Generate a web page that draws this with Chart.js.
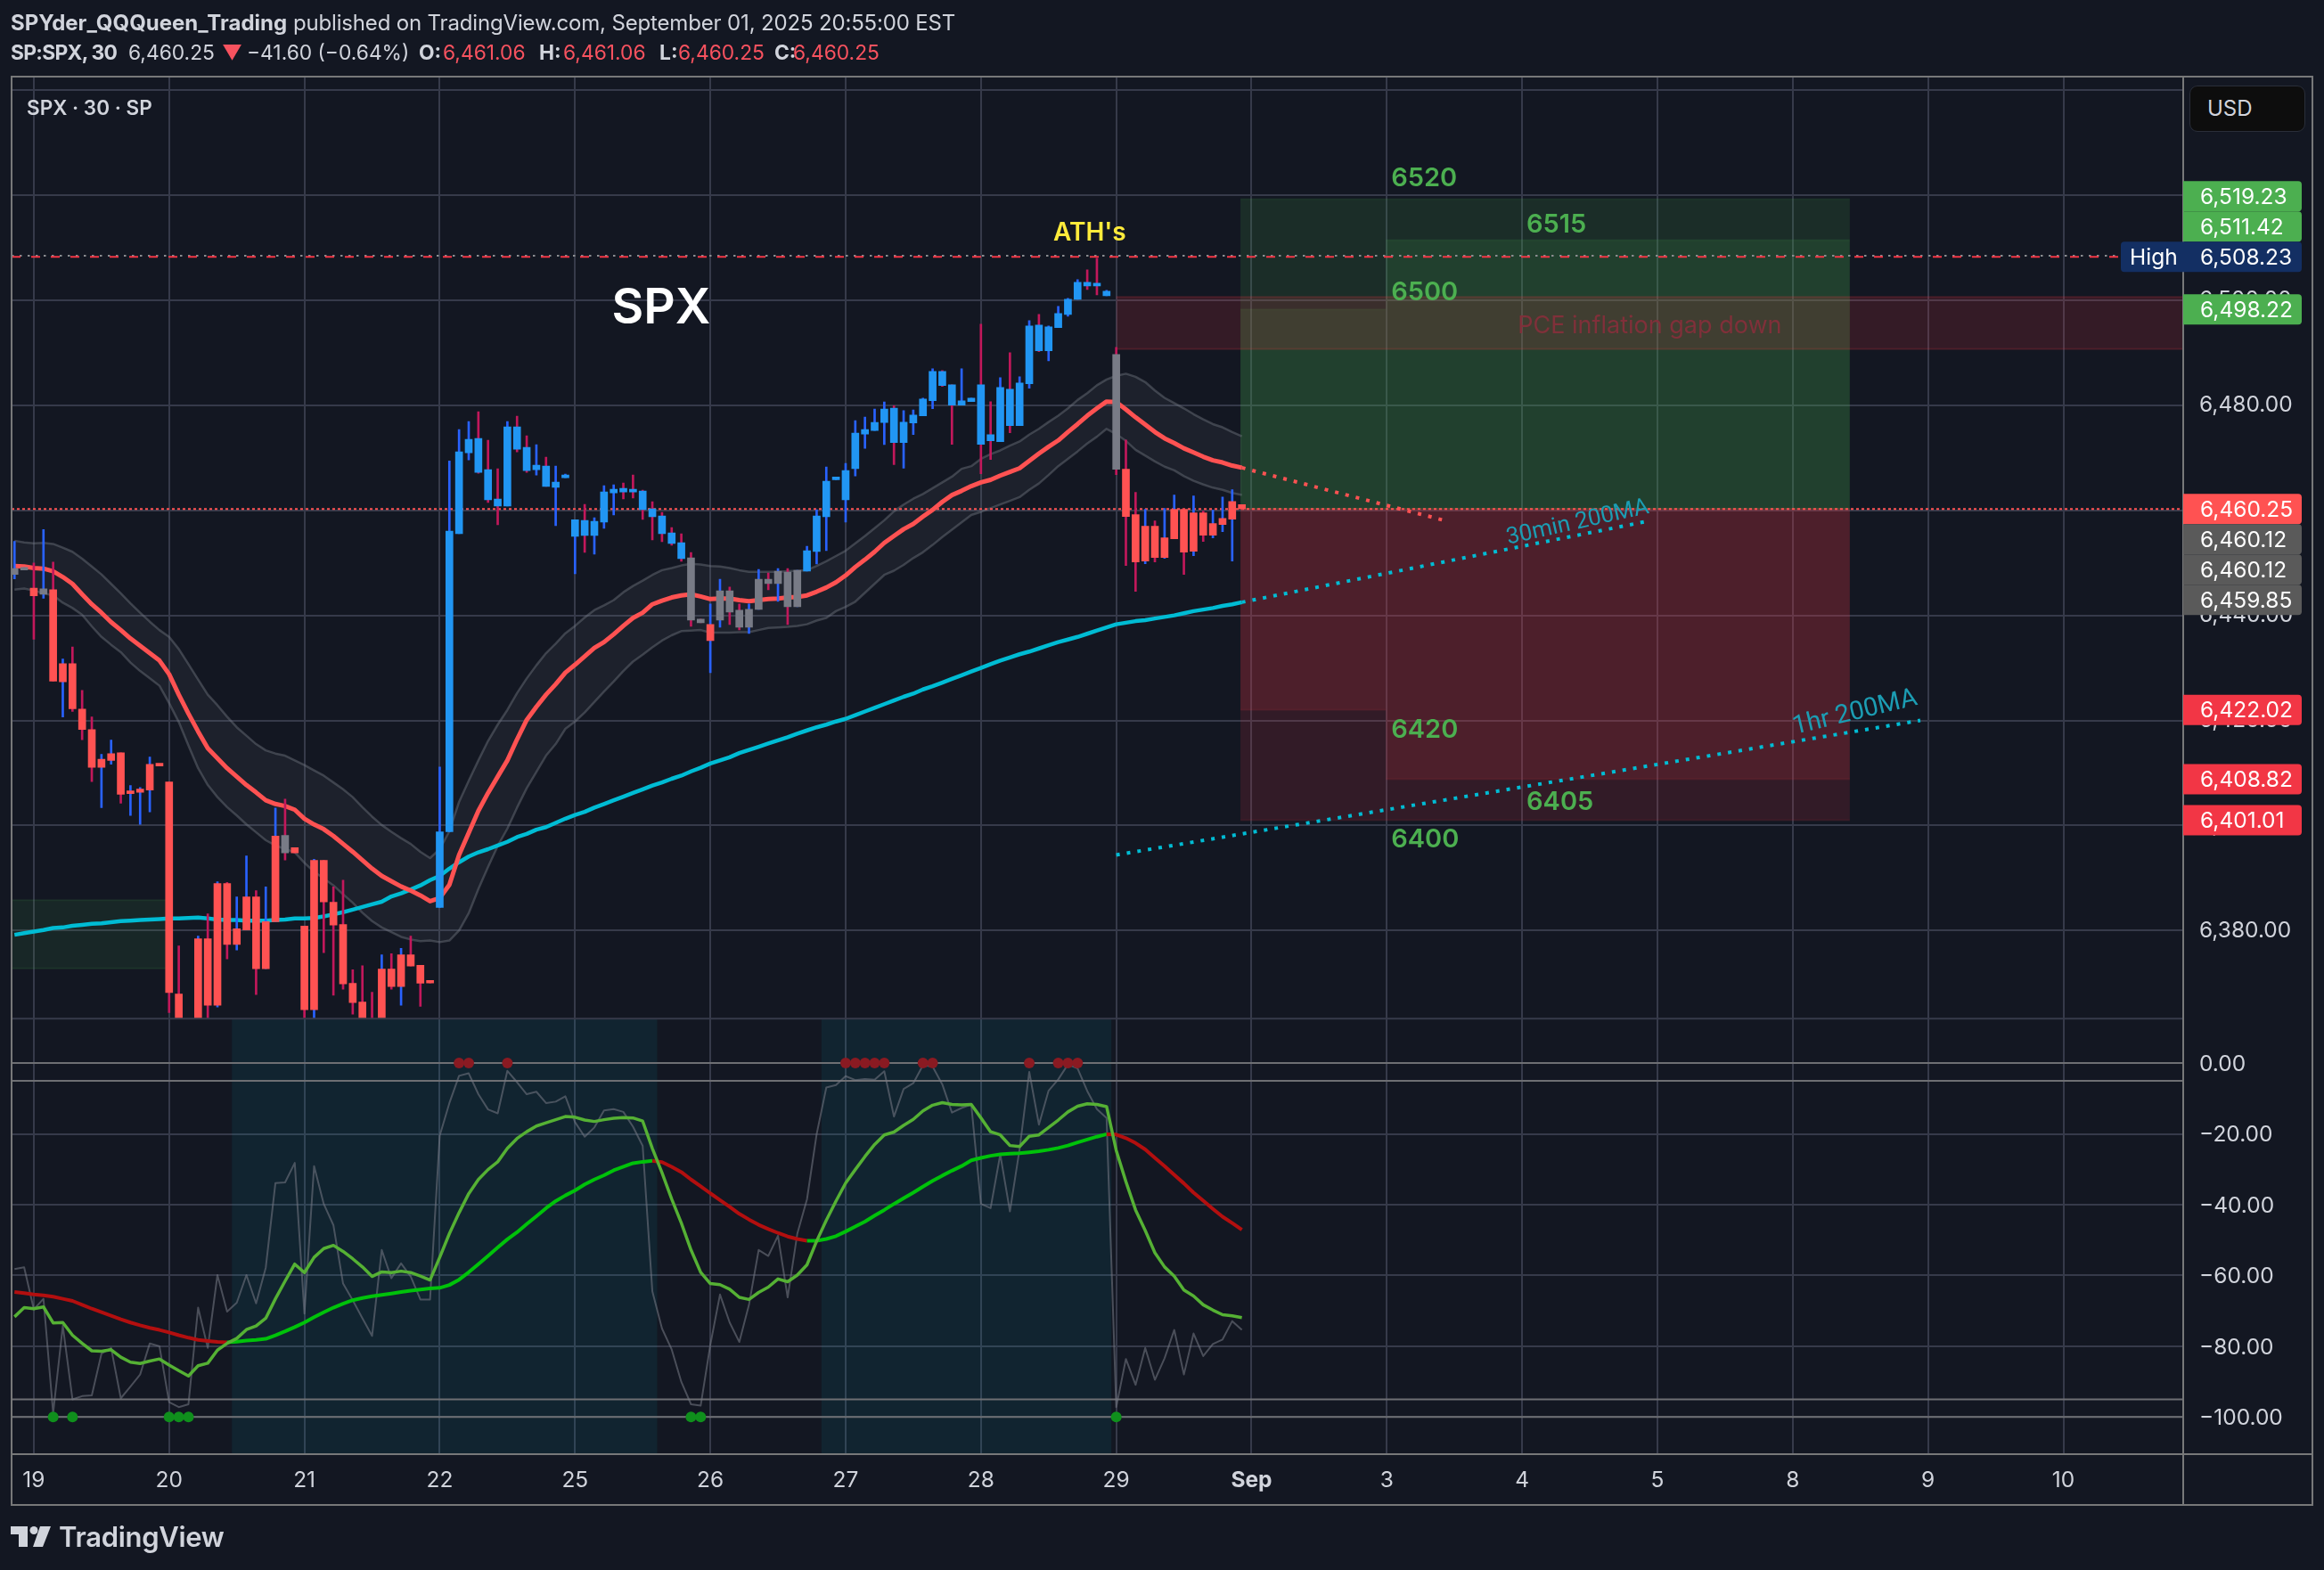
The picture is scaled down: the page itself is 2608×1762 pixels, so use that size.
<!DOCTYPE html>
<html lang="en">

<head>
    <meta charset="UTF-8">
    <title>SPX 30 | TradingView snapshot</title>
    <script src="https://cdn.jsdelivr.net/npm/chart.js"></script>
    <style>
        html, body { margin: 0; padding: 0; background: #131722; }
        body { width: 2608px; height: 1762px; position: relative; overflow: hidden; font-family: Inter, sans-serif; color: #d1d4dc; }
        canvas { position: absolute; left: 0; top: 0; }
        .txt { position: absolute; white-space: nowrap; font-size: 24px; line-height: 30px; }
        .txt b { font-weight: 700; }
        .linha2 { top: 44px; font-size: 22.8px; }
        .red { color: #f7525f; }
        #usd { left: 2457px; top: 96px; width: 109px; height: 50px; padding-left: 19px; line-height: 50px; background: #0d0d0d; border: 1px solid #2a2e39; border-radius: 9px; }
        #logoText { left: 66px; top: 1705px; font-size: 31px; line-height: 40px; font-weight: 600; letter-spacing: -0.3px; }
    </style>
</head>

<body>
    <canvas id="grafico" width="2608" height="1762"></canvas>

    <div class="txt" style="left:12px; top:11px;"><b>SPYder_QQQueen_Trading</b> <span style="letter-spacing:-0.16px">published on TradingView.com, September 01, 2025 20:55:00 EST</span></div>
    <div class="txt linha2" style="left:12px; letter-spacing:-0.7px;"><b>SP:SPX, 30</b></div>
    <div class="txt linha2" style="left:144px;">6,460.25</div>
    <div class="txt linha2 red" style="left:249px;">▼</div>
    <div class="txt linha2" style="left:277px;">−41.60 (−0.64%)</div>
    <div class="txt linha2" style="left:470px;"><b>O:</b></div>
    <div class="txt linha2 red" style="left:497px;">6,461.06</div>
    <div class="txt linha2" style="left:605px;"><b>H:</b></div>
    <div class="txt linha2 red" style="left:632px;">6,461.06</div>
    <div class="txt linha2" style="left:740px;"><b>L:</b></div>
    <div class="txt linha2 red" style="left:761px;">6,460.25</div>
    <div class="txt linha2" style="left:869px;"><b>C:</b></div>
    <div class="txt linha2 red" style="left:890px;">6,460.25</div>
    <div class="txt" style="left:30px; top:106px; font-weight:600; font-size:22.5px;">SPX · 30 · SP</div>
    <div class="txt" id="usd">USD</div>

    <svg style="position:absolute; left:12px; top:1712px;" width="46" height="26" viewBox="0 0 46 26">
        <path fill="#d1d4dc" d="M0 1h19v23H9V10H0z" />
        <circle fill="#d1d4dc" cx="26" cy="5.5" r="4.5" />
        <path fill="#d1d4dc" d="M33 1h12l-9 23H25z" />
    </svg>
    <div class="txt" id="logoText">TradingView</div>

    <script>
        // 30 minute bars, 14 a day, first bar is two bars before the "19" gridline
        const firstBar = -2;

        const barOpen = [
            6447.78, 6448.63,
            6445.19, 6444.02, 6444.86, 6427.35, 6430.79, 6422.16, 6418.27, 6411.07, 6412.37, 6413.86, 6406.08, 6406.34, 6406.73, 6411.59,
            6408.28, 6367.94, 6362.00, 6361.00, 6378.45, 6365.80, 6388.96, 6377.35, 6380.13, 6386.42, 6372.74, 6381.69, 6398.10, 6395.77,
            6380.85, 6364.96, 6393.37, 6385.38, 6381.17, 6369.95, 6366.38, 6362.00, 6362.00, 6372.68, 6369.37, 6375.40, 6373.39, 6370.34,
            6384.40, 6398.81, 6455.54, 6470.96, 6473.67, 6467.74, 6462.15, 6460.79, 6475.88, 6471.98, 6467.74, 6468.42, 6464.35, 6466.21,
            6455.03, 6458.08, 6455.20, 6457.74, 6463.33, 6464.18, 6463.84, 6463.67, 6460.28, 6458.93, 6455.71, 6453.84, 6450.96, 6439.27,
            6435.20, 6439.10, 6444.69, 6440.96, 6437.74, 6441.13, 6446.89, 6446.05, 6448.25, 6441.64, 6448.42, 6452.15, 6458.76, 6465.82,
            6461.98, 6467.91, 6474.52, 6475.20, 6476.72, 6479.44, 6472.88, 6476.61, 6477.97, 6480.85, 6486.44, 6483.90, 6480.00, 6480.68,
            6483.90, 6474.41, 6473.05, 6483.05, 6476.10, 6484.07, 6495.25, 6490.34, 6494.75, 6497.29, 6500.17, 6503.39, 6503.05, 6500.85,
            6489.66, 6467.80, 6459.15, 6450.34, 6456.95, 6451.02, 6454.58, 6460.17, 6452.20, 6459.49, 6455.25, 6457.29, 6458.31, 6461.06
        ];
        const barHigh = [
            6454.07, 6449.08,
            6449.99, 6456.34, 6450.12, 6431.70, 6433.97, 6425.73, 6420.67, 6413.54, 6416.26, 6413.86, 6407.63, 6407.24, 6413.02, 6411.59,
            6408.28, 6377.09, 6362.50, 6378.97, 6383.19, 6389.28, 6389.15, 6386.42, 6394.21, 6387.59, 6388.30, 6403.35, 6405.04, 6395.77,
            6380.85, 6393.56, 6393.37, 6388.30, 6389.60, 6372.55, 6373.32, 6368.26, 6375.40, 6375.60, 6376.60, 6378.97, 6373.39, 6370.34,
            6411.13, 6469.38, 6475.37, 6476.89, 6478.76, 6473.33, 6467.91, 6476.89, 6477.91, 6474.18, 6472.49, 6470.11, 6468.42, 6466.89,
            6458.19, 6461.13, 6458.59, 6464.69, 6464.86, 6465.20, 6466.72, 6463.84, 6461.64, 6459.60, 6456.72, 6455.54, 6451.98, 6439.27,
            6442.15, 6446.89, 6445.37, 6442.15, 6442.15, 6448.76, 6448.08, 6448.93, 6448.93, 6448.59, 6453.16, 6460.11, 6468.25, 6466.05,
            6468.93, 6477.06, 6477.74, 6479.27, 6480.62, 6479.89, 6478.98, 6479.10, 6481.36, 6486.95, 6486.61, 6483.90, 6486.95, 6481.36,
            6495.42, 6480.68, 6485.25, 6490.00, 6485.42, 6496.10, 6497.29, 6495.08, 6498.81, 6500.34, 6503.90, 6505.76, 6507.97, 6501.86,
            6491.02, 6473.39, 6463.39, 6460.17, 6457.97, 6460.34, 6462.88, 6460.17, 6462.71, 6459.83, 6460.00, 6462.54, 6463.90, 6461.06
        ];
        const barLow = [
            6446.94, 6448.63,
            6435.46, 6443.24, 6427.48, 6420.67, 6421.71, 6416.33, 6408.35, 6403.42, 6411.66, 6404.26, 6401.93, 6400.24, 6402.58, 6411.33,
            6364.40, 6358.00, 6356.00, 6359.00, 6362.00, 6365.47, 6374.62, 6376.31, 6380.13, 6367.81, 6372.74, 6381.69, 6393.43, 6394.79,
            6362.00, 6362.00, 6375.79, 6367.68, 6368.85, 6364.11, 6360.00, 6356.00, 6360.00, 6368.85, 6365.80, 6373.26, 6365.60, 6370.02,
            6384.40, 6398.81, 6455.54, 6469.60, 6467.05, 6461.47, 6457.23, 6460.79, 6471.13, 6467.23, 6466.72, 6464.52, 6457.06, 6466.21,
            6447.91, 6451.98, 6451.64, 6456.55, 6459.10, 6462.15, 6462.32, 6458.25, 6454.35, 6454.01, 6453.33, 6450.28, 6437.91, 6438.59,
            6429.10, 6437.74, 6438.25, 6437.23, 6436.55, 6441.13, 6444.86, 6442.66, 6438.25, 6441.64, 6448.42, 6449.77, 6452.32, 6465.82,
            6457.74, 6466.55, 6471.81, 6475.20, 6472.49, 6468.70, 6468.02, 6474.41, 6477.97, 6479.32, 6483.56, 6472.54, 6480.00, 6480.68,
            6466.95, 6469.66, 6473.05, 6474.75, 6476.10, 6483.22, 6490.17, 6488.47, 6494.75, 6496.95, 6500.17, 6502.03, 6501.02, 6500.85,
            6466.78, 6449.49, 6444.58, 6449.83, 6450.17, 6450.85, 6454.58, 6447.80, 6451.36, 6454.07, 6454.75, 6455.93, 6450.34, 6460.25
        ];
        const barClose = [
            6448.89, 6449.08,
            6443.70, 6445.06, 6427.48, 6430.79, 6422.23, 6418.27, 6411.07, 6412.63, 6413.67, 6405.95, 6406.40, 6406.92, 6411.66, 6411.33,
            6368.20, 6360.00, 6358.00, 6378.45, 6365.80, 6388.96, 6377.35, 6380.33, 6386.42, 6372.74, 6381.69, 6397.97, 6394.79, 6394.79,
            6364.96, 6393.37, 6385.45, 6381.04, 6369.88, 6366.32, 6361.00, 6358.00, 6372.68, 6369.37, 6375.40, 6373.26, 6370.00, 6370.02,
            6398.81, 6456.05, 6471.13, 6473.50, 6467.23, 6461.98, 6460.79, 6475.88, 6471.64, 6467.57, 6468.59, 6464.52, 6465.37, 6466.72,
            6458.19, 6455.20, 6457.91, 6463.50, 6464.01, 6463.50, 6463.50, 6460.11, 6458.76, 6455.54, 6453.67, 6450.79, 6439.10, 6438.59,
            6438.25, 6444.69, 6440.62, 6437.74, 6441.13, 6446.89, 6446.05, 6448.42, 6441.64, 6448.59, 6452.32, 6458.93, 6465.54, 6466.05,
            6467.57, 6474.69, 6475.37, 6476.72, 6479.27, 6472.88, 6476.78, 6478.14, 6481.19, 6486.44, 6483.73, 6480.00, 6480.85, 6481.36,
            6472.54, 6473.22, 6483.39, 6476.10, 6484.24, 6495.08, 6490.34, 6494.92, 6497.46, 6500.17, 6503.39, 6502.71, 6502.71, 6501.69,
            6467.80, 6458.81, 6450.17, 6456.95, 6451.02, 6454.75, 6460.17, 6452.03, 6459.49, 6455.25, 6457.46, 6458.47, 6461.69, 6460.25
        ];
        // painted state of each bar: 1 up trend, -1 down trend, 0 neutral
        const barTrend = [
            0, 0,
            -1, 0, -1, -1, -1, -1, -1, -1, -1, -1, -1, -1, -1, -1,
            -1, -1, -1, -1, -1, -1, -1, -1, -1, -1, -1, -1, 0, -1,
            -1, -1, -1, -1, -1, -1, -1, -1, -1, -1, -1, -1, -1, -1,
            1, 1, 1, 1, 1, 1, 1, 1, 1, 1, 1, 1, 1, 1,
            1, 1, 1, 1, 1, 1, 1, 1, 1, 1, 1, 1, 0, 0,
            -1, 0, 0, 0, 0, 0, 0, 0, 0, 0, 1, 1, 1, 1,
            1, 1, 1, 1, 1, 1, 1, 1, 1, 1, 1, 1, 1, 1,
            1, 1, 1, 1, 1, 1, 1, 1, 1, 1, 1, 1, 1, 1,
            0, -1, -1, -1, -1, -1, -1, -1, -1, -1, -1, -1, -1, -1
        ];

        const maRed = [
            6449.4, 6449.3,
            6449.0, 6448.9, 6448.4, 6447.3, 6446.0, 6444.0, 6442.1, 6440.5, 6438.7, 6437.2, 6435.6, 6434.2, 6432.8, 6431.4,
            6428.8, 6424.9, 6421.3, 6417.9, 6414.7, 6412.8, 6410.9, 6409.3, 6407.7, 6406.3, 6404.8, 6404.1, 6403.7, 6403.0,
            6401.3, 6400.2, 6399.3, 6398.0, 6396.5, 6395.0, 6393.4, 6391.8, 6390.4, 6389.4, 6388.4, 6387.6, 6386.7, 6385.6,
            6386.2, 6388.7, 6394.4, 6398.6, 6402.8, 6406.2, 6409.3, 6412.4, 6416.4, 6420.1, 6422.6, 6424.9, 6426.9, 6429.1,
            6430.6, 6432.2, 6433.8, 6434.9, 6436.4, 6438.0, 6439.5, 6440.5, 6442.1, 6442.8, 6443.4, 6443.8, 6444.0, 6443.6,
            6443.1, 6443.2, 6443.2, 6442.9, 6442.7, 6442.9, 6443.1, 6443.2, 6443.4, 6443.5, 6443.8, 6444.5, 6445.3, 6446.3,
            6447.6, 6449.2, 6450.6, 6452.1, 6453.8, 6455.1, 6456.4, 6457.4, 6458.8, 6460.1, 6461.6, 6462.9, 6463.7, 6464.6,
            6465.3, 6465.8, 6466.6, 6467.3, 6468.0, 6469.4, 6470.8, 6472.1, 6473.3, 6474.9, 6476.4, 6478.0, 6479.4, 6480.7,
            6480.6, 6479.2, 6477.7, 6476.3, 6474.9, 6473.7, 6472.8, 6471.8, 6471.0, 6470.2, 6469.5, 6469.1, 6468.5, 6468.1
        ];
        const bandUpper = [
            6454.2, 6453.9,
            6453.7, 6453.8, 6453.6, 6452.9, 6452.1, 6450.8, 6449.3, 6447.8, 6446.0, 6444.2, 6442.3, 6440.5, 6438.8, 6437.2,
            6435.9, 6433.6, 6430.7, 6427.8, 6424.9, 6422.9, 6420.7, 6418.7, 6417.1, 6415.5, 6414.3, 6413.7, 6413.3, 6412.4,
            6411.5, 6410.5, 6409.5, 6408.2, 6406.9, 6405.4, 6403.5, 6401.7, 6400.1, 6398.8, 6397.6, 6396.5, 6395.0, 6393.8,
            6395.5, 6398.9, 6404.5, 6408.5, 6412.4, 6416.1, 6419.2, 6422.0, 6425.2, 6428.0, 6430.5, 6432.8, 6434.6, 6436.6,
            6438.0, 6439.6, 6441.0, 6441.9, 6442.9, 6444.4, 6445.6, 6446.6, 6447.7, 6448.6, 6449.0, 6449.5, 6449.8, 6449.7,
            6449.4, 6449.3, 6449.0, 6448.6, 6448.3, 6448.3, 6448.3, 6448.3, 6448.4, 6448.5, 6448.6, 6449.4, 6450.3, 6451.3,
            6452.3, 6453.7, 6455.1, 6456.6, 6458.1, 6459.8, 6461.1, 6462.2, 6463.1, 6464.2, 6465.3, 6466.4, 6467.9, 6468.4,
            6469.8, 6470.7, 6471.4, 6472.3, 6473.1, 6474.4, 6475.5, 6476.8, 6478.0, 6479.4, 6481.0, 6482.3, 6483.8, 6484.9,
            6485.6, 6486.0, 6485.4, 6484.4, 6482.8, 6481.4, 6480.4, 6479.4, 6478.3, 6477.3, 6476.4, 6475.8, 6474.9, 6474.1
        ];
        const bandLower = [
            6444.9, 6445.1,
            6444.7, 6444.2, 6443.8, 6442.4, 6441.4, 6440.1, 6437.9, 6435.9, 6434.4, 6433.0, 6431.0, 6429.4, 6428.0, 6426.6,
            6423.3, 6419.7, 6415.2, 6410.9, 6407.7, 6405.4, 6403.5, 6401.9, 6400.2, 6398.7, 6397.2, 6396.2, 6395.5, 6394.9,
            6392.9, 6391.2, 6389.9, 6388.6, 6386.9, 6385.3, 6383.4, 6381.8, 6380.6, 6379.7, 6378.8, 6378.3, 6378.0, 6378.1,
            6377.8, 6378.1, 6380.0, 6383.3, 6387.9, 6392.1, 6396.1, 6399.4, 6403.4, 6407.1, 6410.2, 6413.3, 6415.5, 6418.4,
            6419.8, 6421.5, 6423.5, 6425.5, 6427.4, 6429.4, 6431.2, 6432.5, 6433.9, 6435.2, 6436.2, 6437.0, 6437.1, 6437.2,
            6436.7, 6436.7, 6436.7, 6436.8, 6436.8, 6437.2, 6437.6, 6437.7, 6437.8, 6438.0, 6438.3, 6439.0, 6439.5, 6440.8,
            6441.6, 6442.6, 6444.3, 6446.0, 6447.7, 6448.5, 6449.6, 6450.9, 6452.0, 6453.4, 6454.9, 6456.3, 6457.7, 6459.1,
            6459.7, 6460.4, 6461.1, 6461.8, 6462.5, 6463.9, 6465.1, 6466.7, 6468.4, 6469.8, 6471.2, 6472.7, 6474.0, 6475.5,
            6474.5, 6473.2, 6471.5, 6470.4, 6469.3, 6468.3, 6467.6, 6466.5, 6465.6, 6464.9, 6464.3, 6463.9, 6463.3, 6462.9
        ];
        const maCyan = [
            6379.2, 6379.5,
            6379.8, 6380.1, 6380.5, 6380.6, 6380.9, 6381.1, 6381.3, 6381.4, 6381.6, 6381.8, 6381.9, 6382.0, 6382.1, 6382.2,
            6382.3, 6382.3, 6382.4, 6382.5, 6382.3, 6382.1, 6382.0, 6382.0, 6381.9, 6381.9, 6381.9, 6382.0, 6382.1, 6382.3,
            6382.3, 6382.4, 6382.7, 6383.1, 6383.5, 6384.0, 6384.5, 6385.0, 6385.5, 6386.5, 6387.1, 6387.8, 6388.6, 6389.6,
            6390.4, 6391.8, 6393.0, 6394.1, 6394.9, 6395.5, 6396.2, 6396.9, 6397.8, 6398.4, 6399.2, 6399.7, 6400.5, 6401.3,
            6402.0, 6402.6, 6403.4, 6404.1, 6404.8, 6405.5, 6406.2, 6406.9, 6407.6, 6408.2, 6408.9, 6409.5, 6410.3, 6411.0,
            6411.8, 6412.4, 6413.0, 6413.8, 6414.4, 6415.0, 6415.6, 6416.2, 6416.8, 6417.5, 6418.1, 6418.7, 6419.2, 6419.8,
            6420.3, 6421.0, 6421.7, 6422.4, 6423.1, 6423.8, 6424.5, 6425.1, 6425.9, 6426.5, 6427.2, 6427.9, 6428.6, 6429.3,
            6430.0, 6430.7, 6431.4, 6432.0, 6432.6, 6433.1, 6433.7, 6434.3, 6434.9, 6435.4, 6435.9, 6436.5, 6437.1, 6437.7,
            6438.3, 6438.6, 6438.9, 6439.1, 6439.4, 6439.7, 6440.0, 6440.4, 6440.8, 6441.1, 6441.4, 6441.8, 6442.1, 6442.5
        ];

        // lower pane
        const oscFast = [
            -71.7, -69.1,
            -69.4, -68.9, -73.4, -73.3, -76.9, -79.2, -81.3, -81.4, -81.0, -83.1, -84.5, -84.9, -84.2, -83.6,
            -85.3, -86.9, -88.4, -85.5, -84.8, -81.1, -79.2, -77.8, -75.3, -74.3, -72.1, -66.6, -61.6, -56.8,
            -59.2, -54.9, -52.4, -51.5, -53.2, -55.3, -57.6, -60.3, -59.0, -59.2, -58.8, -59.2, -60.2, -61.3,
            -54.9, -48.2, -42.3, -36.9, -32.9, -30.1, -27.9, -24.1, -21.3, -19.4, -17.8, -16.9, -16.0, -15.1,
            -15.3, -16.1, -16.5, -16.0, -15.6, -15.4, -15.5, -16.4, -24.1, -31.0, -38.4, -45.2, -52.8, -59.1,
            -62.3, -62.6, -63.9, -66.2, -66.8, -64.8, -63.3, -61.0, -61.8, -59.9, -57.0, -50.3, -44.4, -39.0,
            -33.9, -30.1, -26.4, -23.0, -20.3, -19.5, -17.6, -15.9, -13.5, -11.9, -11.2, -11.7, -11.8, -11.7,
            -15.5, -19.4, -20.3, -23.3, -23.6, -20.7, -20.3, -18.2, -16.1, -13.8, -12.2, -11.5, -11.7, -12.3,
            -24.7, -33.5, -41.5, -47.3, -53.6, -57.6, -60.2, -64.1, -65.8, -68.3, -69.8, -71.1, -71.4, -71.9
        ];
        const oscSlow = [
            -64.7, -65.0,
            -65.4, -65.6, -66.0, -66.6, -67.2, -68.3, -69.4, -70.4, -71.4, -72.4, -73.3, -74.1, -74.8, -75.4,
            -76.1, -76.9, -77.6, -78.2, -78.5, -78.8, -78.9, -78.7, -78.4, -78.2, -77.9, -76.9, -75.8, -74.6,
            -73.3, -71.8, -70.4, -69.1, -68.0, -67.0, -66.4, -65.9, -65.5, -65.1, -64.7, -64.3, -64.0, -63.7,
            -63.5, -62.7, -61.2, -59.1, -56.8, -54.5, -52.1, -49.8, -47.8, -45.5, -43.3, -41.0, -39.0, -37.4,
            -36.0, -34.3, -32.9, -31.7, -30.3, -29.3, -28.3, -27.9, -27.6, -28.0, -29.3, -30.8, -32.9, -34.8,
            -36.8, -38.7, -40.6, -42.6, -44.2, -45.7, -46.9, -48.0, -49.0, -49.7, -50.2, -50.2, -49.7, -48.9,
            -47.6, -46.2, -44.8, -43.1, -41.5, -39.8, -38.2, -36.6, -34.9, -33.3, -31.8, -30.4, -29.1, -27.5,
            -26.8, -26.2, -25.8, -25.6, -25.5, -25.2, -24.9, -24.5, -24.0, -23.3, -22.4, -21.6, -20.8, -20.1,
            -20.2, -21.2, -22.6, -24.4, -26.8, -29.1, -31.6, -34.0, -36.6, -38.9, -41.2, -43.4, -45.2, -47.1
        ];
        const oscRaw = [
            -58.2, -57.7,
            -69.6, -66.6, -98.9, -74.2, -95.0, -94.1, -93.9, -82.1, -80.5, -94.7, -91.4, -88.0, -79.2, -80.0,
            -95.8, -97.2, -96.4, -69.1, -80.5, -59.9, -70.2, -67.7, -59.9, -67.9, -57.8, -33.9, -33.7, -28.2,
            -70.8, -29.1, -39.8, -45.8, -62.3, -67.0, -72.1, -77.1, -52.8, -60.8, -56.6, -60.3, -66.8, -66.8,
            -20.5, -11.3, -3.6, -2.9, -8.8, -13.1, -14.2, -2.2, -5.4, -8.8, -8.1, -11.3, -10.9, -9.4,
            -16.7, -20.8, -18.2, -13.4, -13.0, -13.8, -18.0, -23.4, -64.5, -75.0, -80.9, -90.1, -96.4, -96.8,
            -79.6, -65.4, -73.3, -78.8, -68.3, -52.8, -54.5, -48.8, -66.2, -48.2, -38.5, -20.1, -6.9, -6.2,
            -3.7, -4.8, -4.5, -4.7, -2.3, -15.1, -7.3, -5.7, -0.6, -1.0, -6.0, -14.0, -12.7, -11.7,
            -39.8, -41.0, -25.8, -41.9, -24.3, -2.5, -17.4, -7.8, -4.6, -0.4, -1.5, -7.9, -13.0, -15.5,
            -97.2, -83.6, -90.9, -80.5, -89.5, -83.4, -75.4, -88.0, -76.4, -82.8, -79.4, -78.1, -72.9, -75.4
        ];
        const overboughtBars = [44, 45, 49, 84, 85, 86, 87, 88, 92, 93, 103, 106, 107, 108];
        const oversoldBars = [2, 4, 14, 15, 16, 68, 69, 112];
        const oscLevels = [0, -5, -95, -100];
        const oscZoneStart = [20.5, 81.5];
        const oscZoneEnd = [64.5, 111.5];

        // axes
        const dayTicks = [0, 14, 28, 42, 56, 70, 84, 98, 112, 126, 140, 154, 168, 182, 196, 210];
        const dayLabels = ['19', '20', '21', '22', '25', '26', '27', '28', '29', 'Sep', '3', '4', '5', '8', '9', '10'];
        const priceTicks = [6380, 6400, 6420, 6440, 6460, 6480, 6500, 6520, 6540];
        const oscTicks = [0, -20, -40, -60, -80, -100];

        // levels and drawings
        const lastPrice = 6460.25;
        const highPrice = 6508.23;
        const toolStart = [124.85, 124.85, 139.9];
        const toolEnd = [187.9, 139.9, 187.9];
        const toolTarget = [6519.23, 6498.22, 6511.42];
        const toolStop = [6401.01, 6422.02, 6408.82];
        const badgePrices = [6519.23, 6511.42, 6508.23, 6498.22, 6460.25, 6460.12, 6460.12, 6459.85, 6422.02, 6408.82, 6401.01];
        const badgeKinds = ['target', 'target', 'high', 'target', 'last', 'ma', 'ma', 'ma', 'stop', 'stop', 'stop'];
        const redTrendX = [125, 145.9];
        const redTrendY = [6468.1, 6458.1];
        const cyanTrendX = [125, 167.2];
        const cyanTrendY = [6442.5, 6458.0];
        const cyanSlowX = [112, 195.2];
        const cyanSlowY = [6394.4, 6420.0];

        const xMin = -2.3;
        const xMax = 222.4;
        const barIndex = barOpen.map((v, k) => k + firstBar);
        const trendColors = { '1': '#2196f3', '-1': '#ff5252', '0': '#787b86' };

        function serie(valores) {
            return valores.map((v, k) => ({ x: k + firstBar, y: v }));
        }

        function linha(rotulo, valores, cor, largura, eixo, ordem) {
            return { type: 'line', label: rotulo, data: valores, yAxisID: eixo, borderColor: cor, borderWidth: largura, pointRadius: 0, tension: 0, fill: false, order: ordem, borderJoinStyle: 'round' };
        }

        function pontilhado(rotulo, xs, ys, cor, largura, traco, ordem) {
            const ds = linha(rotulo, xs.map((x, k) => ({ x: x, y: ys[k] })), cor, largura, 'y', ordem);
            ds.borderDash = traco;
            ds.borderCapStyle = 'butt';
            return ds;
        }

        function nivel(valor) {
            return linha('nivel ' + valor, [{ x: xMin, y: valor }, { x: xMax, y: valor }], '#6e6f73', 2, 'yOsc', 9);
        }

        function pontos(rotulo, barras, valor, cor) {
            return { type: 'line', label: rotulo, data: barras.map(b => ({ x: b, y: valor })), yAxisID: 'yOsc', showLine: false, pointRadius: 6, pointBackgroundColor: cor, pointBorderWidth: 0, order: 1 };
        }

        const datasets = [
            // candles: wicks under the bodies
            {
                type: 'bar', label: 'wicks', yAxisID: 'y', grouped: false, maxBarThickness: 2, barPercentage: 1, categoryPercentage: 1, order: 2,
                data: barIndex.map((x, k) => ({ x: x, y: [barLow[k], barHigh[k]] })),
                backgroundColor: barIndex.map((x, k) => barClose[k] >= barOpen[k] ? '#2962ff' : '#c2185b')
            },
            {
                type: 'bar', label: 'bodies', yAxisID: 'y', grouped: false, maxBarThickness: 8, barPercentage: 1, categoryPercentage: 1, order: 1,
                data: barIndex.map((x, k) => ({ x: x, y: [barOpen[k], barClose[k]] })),
                backgroundColor: barTrend.map(t => trendColors[t]), minBarLength: 3
            },
            linha('EMA', serie(maRed), '#ff5252', 5, 'y', 5),
            linha('200MA', serie(maCyan), '#00bcd4', 4.5, 'y', 6),
            Object.assign(linha('band upper', serie(bandUpper), 'rgba(120,123,134,0.42)', 2.5, 'y', 8), { fill: '+1', backgroundColor: 'rgba(120,123,134,0.1)' }),
            linha('band lower', serie(bandLower), 'rgba(120,123,134,0.42)', 2.5, 'y', 8),
            pontilhado('high', [xMin, 216], [highPrice, highPrice], '#f23645', 2, [10, 12], 7),
            pontilhado('high dots', [xMin, 216], [highPrice + 0.2, highPrice + 0.2], '#8b8d90', 2, [2.5, 6.5], 7.5),
            pontilhado('last', [xMin, xMax], [lastPrice, lastPrice], '#ff5252', 2, [3, 3], 7),
            pontilhado('ema trend', redTrendX, redTrendY, '#ff5252', 4, [4, 8], 4),
            pontilhado('30min 200MA', cyanTrendX, cyanTrendY, '#00bcd4', 4, [4, 8], 4),
            pontilhado('1hr 200MA', cyanSlowX, cyanSlowY, '#00bcd4', 4, [4, 8], 4),
            // oscillator
            nivel(oscLevels[0]), nivel(oscLevels[1]), nivel(oscLevels[2]), nivel(oscLevels[3]),
            linha('raw', serie(oscRaw), 'rgba(120,123,134,0.55)', 2, 'yOsc', 5),
            Object.assign(linha('slow', serie(oscSlow), '#00c20a', 4, 'yOsc', 4), {
                segment: { borderColor: c => c.p1.parsed.y >= c.p0.parsed.y ? '#00c20a' : '#b30f0f' }
            }),
            linha('fast', serie(oscFast), '#55b134', 3.5, 'yOsc', 3),
            pontos('overbought', overboughtBars, 0, '#8a1a22'),
            pontos('oversold', oversoldBars, -100, '#0f8f1c')
        ];

        const AXIS = '#777879';
        const FONT = 'Inter, sans-serif';

        function retangulo(chart, x0, x1, p0, p1, eixo, preenchimento, contorno) {
            const esc = chart.scales;
            const ctx = chart.ctx;
            const left = esc.x.getPixelForValue(x0);
            const right = Math.min(esc.x.getPixelForValue(x1), esc.x.right);
            const top = esc[eixo].getPixelForValue(p0);
            const bottom = esc[eixo].getPixelForValue(p1);
            ctx.fillStyle = preenchimento;
            ctx.fillRect(left, top, right - left, bottom - top);
            if (contorno) {
                ctx.fillStyle = contorno;
                ctx.fillRect(left, top - 1, right - left, 2);
                ctx.fillRect(left, bottom - 1, right - left, 2);
            }
        }

        function texto(chart, txt, xv, pv, fonte, cor, alinhamento, angulo) {
            const ctx = chart.ctx;
            ctx.save();
            ctx.translate(chart.scales.x.getPixelForValue(xv), chart.scales.y.getPixelForValue(pv));
            if (angulo) ctx.rotate(angulo * Math.PI / 180);
            ctx.font = fonte;
            ctx.fillStyle = cor;
            ctx.textAlign = alinhamento;
            ctx.textBaseline = 'middle';
            ctx.fillText(txt, 0, 0);
            ctx.restore();
        }

        const desenhos = {
            id: 'desenhos',
            beforeDatasetsDraw(chart) {
                const c = chart.ctx;
                c.save();
                // oscillator zones
                oscZoneStart.forEach((s, k) => {
                    retangulo(chart, s, oscZoneEnd[k], chart.scales.yOsc.max, chart.scales.yOsc.min, 'yOsc', 'rgba(0,188,212,0.08)');
                });
                // demand box on the far left
                retangulo(chart, xMin, 14, 6385.8, 6372.8, 'y', 'rgba(76,175,80,0.11)', 'rgba(76,175,80,0.12)');
                // long position tools
                toolStart.forEach((s, k) => {
                    retangulo(chart, s, toolEnd[k], toolTarget[k], lastPrice, 'y', 'rgba(76,175,80,0.15)', 'rgba(76,175,80,0.1)');
                    retangulo(chart, s, toolEnd[k], lastPrice, toolStop[k], 'y', 'rgba(242,54,69,0.14)', 'rgba(242,54,69,0.1)');
                });
                // gap box
                retangulo(chart, 112, xMax, 6500.6, 6490.7, 'y', 'rgba(242,54,69,0.15)', 'rgba(242,54,69,0.18)');
                c.restore();
            },
            afterDatasetsDraw(chart) {
                const verde = '#4caf50';
                const negrito = '600 29px ' + FONT;
                texto(chart, 'SPX', 64.9, 6498.3, '600 55px ' + FONT, '#ffffff', 'center');
                texto(chart, "ATH's", 109.25, 6512.7, '600 28px ' + FONT, '#ffeb3b', 'center');
                texto(chart, '6520', 140.45, 6523.2, negrito, verde, 'left');
                texto(chart, '6515', 154.45, 6514.4, negrito, verde, 'left');
                texto(chart, '6500', 140.45, 6501.5, negrito, verde, 'left');
                texto(chart, '6420', 140.45, 6418.1, negrito, verde, 'left');
                texto(chart, '6405', 154.45, 6404.5, negrito, verde, 'left');
                texto(chart, '6400', 140.45, 6397.4, negrito, verde, 'left');
                texto(chart, 'PCE inflation gap down', 167.2, 6495.1, '27px ' + FONT, '#80303a', 'center');
                texto(chart, '30min 200MA', 159.75, 6457.6, '26px Roboto, ' + FONT, '#1c9db3', 'center', -12.5);
                texto(chart, '1hr 200MA', 188.45, 6421.4, '29px Roboto, ' + FONT, '#1c9db3', 'center', -13.5);
            },
            afterDraw(chart) {
                const c = chart.ctx;
                const area = chart.chartArea;
                const y = chart.scales.y;

                // frame and pane split
                c.save();
                c.fillStyle = '#363a4a';
                c.fillRect(area.left, y.bottom - 1, area.right - area.left, 2);
                c.strokeStyle = AXIS;
                c.lineWidth = 2;
                c.strokeRect(13, 86, 2582, 1603);
                c.beginPath();
                c.moveTo(area.right, 86); c.lineTo(area.right, 1689);
                c.moveTo(13, area.bottom); c.lineTo(2595, area.bottom);
                c.stroke();

                // price badges, pushed apart where they would overlap
                const altura = 34;
                const pos = badgePrices.map(p => y.getPixelForValue(p));
                const iHigh = badgeKinds.indexOf('high');
                const iLast = badgeKinds.indexOf('last');
                for (let k = iHigh - 1; k >= 0; k--) pos[k] = Math.min(pos[k], pos[k + 1] - altura);
                for (let k = iLast + 1; k < pos.length; k++) pos[k] = Math.max(pos[k], pos[k - 1] + altura);
                const cores = { target: '#4caf50', high: '#132f63', last: '#ff5252', ma: '#5a5a5a', stop: '#f23645' };
                c.font = '24.5px ' + FONT;
                c.textBaseline = 'middle';
                badgePrices.forEach((p, k) => {
                    c.fillStyle = cores[badgeKinds[k]];
                    c.beginPath();
                    c.roundRect(area.right, pos[k] - altura / 2, 133, altura, [0, 4, 4, 0]);
                    if (badgeKinds[k] === 'high') c.roundRect(2380, pos[k] - altura / 2, 71, altura, [4, 0, 0, 4]);
                    c.fill();
                    c.fillStyle = '#ffffff';
                    c.textAlign = 'left';
                    c.fillText(p.toLocaleString('en-US', { minimumFractionDigits: 2 }), 2469, pos[k] + 1);
                    if (badgeKinds[k] === 'high') c.fillText('High', 2390, pos[k] + 1);
                });
                c.restore();
            }
        };

        new Chart(document.getElementById('grafico'), {
            type: 'line',
            data: { datasets: datasets },
            plugins: [desenhos],
            options: {
                responsive: false,
                animation: false,
                devicePixelRatio: 1,
                parsing: true,
                layout: { padding: { left: 13, top: 87, right: 13, bottom: 73 } },
                plugins: { legend: { display: false }, tooltip: { enabled: false } },
                scales: {
                    x: {
                        type: 'linear', min: xMin, max: xMax, offset: false,
                        afterBuildTicks(scale) { scale.ticks = dayTicks.map(v => ({ value: v })); },
                        afterFit(scale) { scale.height = 57; },
                        grid: { color: '#363a4a', lineWidth: 2, drawTicks: false, offset: false },
                        border: { display: false },
                        ticks: {
                            color: '#d1d4dc', padding: 15, maxRotation: 0, autoSkip: false,
                            font: c => ({ family: FONT, size: 24.5, weight: c.tick && c.tick.value === 126 ? '700' : '400' }),
                            callback: v => dayLabels[dayTicks.indexOf(v)]
                        }
                    },
                    y: {
                        axis: 'y', type: 'linear', position: 'right', stack: 'paineis', stackWeight: 1056.9,
                        min: 6363.24, max: 6542.37,
                        afterBuildTicks(scale) { scale.ticks = priceTicks.map(v => ({ value: v })); },
                        afterFit(scale) { scale.width = 145; },
                        grid: { color: '#363a4a', lineWidth: 2, drawTicks: false },
                        border: { display: false },
                        ticks: {
                            color: '#d1d4dc', padding: 18, font: { family: FONT, size: 24.5 },
                            callback: v => v > 6530 ? '' : v.toLocaleString('en-US', { minimumFractionDigits: 2 })
                        }
                    },
                    yOsc: {
                        axis: 'y', type: 'linear', position: 'right', stack: 'paineis', stackWeight: 489.1,
                        min: -110.5, max: 12.55,
                        afterBuildTicks(scale) { scale.ticks = oscTicks.map(v => ({ value: v })); },
                        afterFit(scale) { scale.width = 145; },
                        grid: { color: '#363a4a', lineWidth: 2, drawTicks: false },
                        border: { display: false },
                        ticks: {
                            color: '#d1d4dc', padding: 18, labelOffset: 1.5, font: { family: FONT, size: 24.5 },
                            callback: v => (v < 0 ? '−' + (-v).toFixed(2) : v.toFixed(2))
                        }
                    }
                }
            }
        });
    </script>
</body>

</html>
